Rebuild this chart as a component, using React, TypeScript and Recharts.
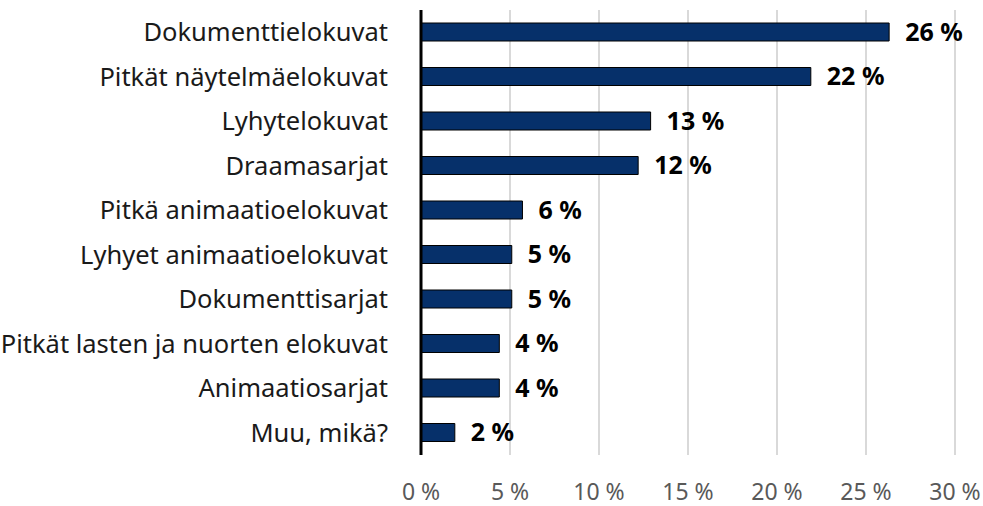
import { BarChart, Bar, XAxis, YAxis, CartesianGrid, LabelList } from "recharts"

const categories = [
  "Dokumenttielokuvat",
  "Pitkät näytelmäelokuvat",
  "Lyhytelokuvat",
  "Draamasarjat",
  "Pitkä animaatioelokuvat",
  "Lyhyet animaatioelokuvat",
  "Dokumenttisarjat",
  "Pitkät lasten ja nuorten elokuvat",
  "Animaatiosarjat",
  "Muu, mikä?",
]

const shares = [26.3, 21.9, 12.9, 12.2, 5.7, 5.1, 5.1, 4.4, 4.4, 1.9]

const xTicks = [0, 5, 10, 15, 20, 25, 30]

const data = categories.map((name, i) => ({ name, value: shares[i] }))

const FONT = "'Noto Sans', sans-serif"

export default function App() {
  return (
    <div style={{ position: "absolute", left: 0, top: 0 }}>
      <BarChart
        width={983}
        height={506}
        data={data}
        layout="vertical"
        margin={{ top: 10, right: 28, bottom: 11, left: 0 }}
        barSize={18}
      >
        <CartesianGrid horizontal={false} stroke="#d9d9d9" strokeWidth={2} />
        <XAxis
          type="number"
          domain={[0, 30]}
          ticks={xTicks}
          tickFormatter={(v) => `${v} %`}
          axisLine={false}
          tickLine={false}
          height={40}
          tickSize={0}
          tickMargin={29}
          tick={{ fill: "#595959", fontSize: 23, fontFamily: FONT }}
        />
        <YAxis
          type="category"
          dataKey="name"
          width={421}
          axisLine={{ stroke: "#000", strokeWidth: 3 }}
          tickLine={false}
          tickSize={0}
          tickMargin={33}
          interval={0}
          tick={{ fill: "#1a1a1a", fontSize: 25.5, fontFamily: FONT }}
        />
        <Bar dataKey="value" fill="#06306a" stroke="#000" strokeWidth={1} isAnimationActive={false}>
          <LabelList
            dataKey="value"
            position="right"
            offset={16}
            formatter={(v: any) => `${Math.round(Number(v))} %`}
            style={{ fill: "#000", fontSize: 25, fontWeight: 700, fontFamily: FONT }}
          />
        </Bar>
      </BarChart>
    </div>
  )
}
